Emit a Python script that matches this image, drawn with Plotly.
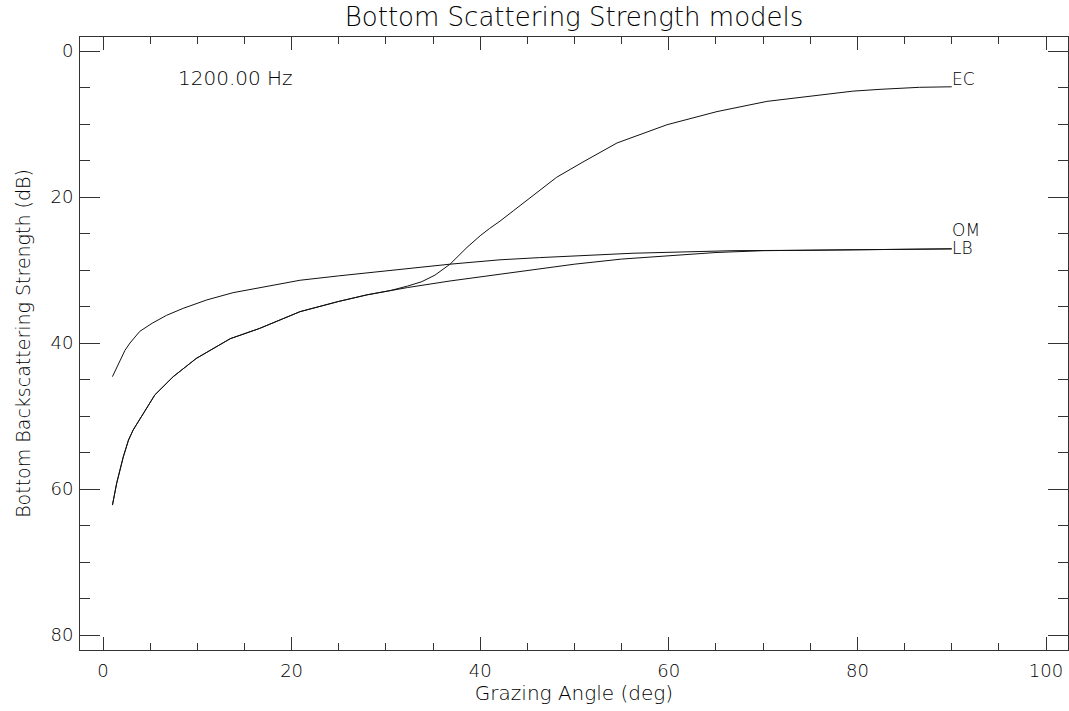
import plotly.graph_objects as go

# ---- data ----
ec_x = [1, 1.45, 2.15, 2.7, 3.2, 4.3, 5.5, 7.45, 9.9, 13.5, 16.6, 20.9, 25, 28, 30.5,
        32.3, 33.8, 35.2, 36.8, 38.6, 40, 41, 42.1, 43.5, 44.6, 46.3, 48.1, 50.9, 54.5, 59.8, 65.1,
        70.4, 75.3, 79.5, 82.4, 86.6, 90]
ec_y = [62.2, 59.2, 55.6, 53.3, 51.9, 49.6, 47.1, 44.6, 42.1, 39.4, 38.0, 35.7, 34.3, 33.4, 32.8,
        32.2, 31.6, 30.7, 29.2, 26.9, 25.3, 24.3, 23.3, 21.9, 20.8, 19.1, 17.3, 15.2, 12.6, 10.1, 8.3,
        6.9, 6.1, 5.5, 5.25, 4.97, 4.9]

om_x = [1, 2.33, 2.86, 3.9, 5.2, 6.75, 8.5, 11.0, 13.8, 17.4, 20.9, 25, 32.2, 36.8,
        42.1, 46.3, 56.2, 66.8, 73.9, 80, 90]
om_y = [44.6, 41.0, 40.0, 38.4, 37.3, 36.2, 35.25, 34.1, 33.1, 32.2, 31.4, 30.8, 29.8, 29.2,
        28.6, 28.3, 27.7, 27.35, 27.3, 27.2, 27.1]

lb_x = [1, 1.45, 2.15, 2.7, 3.2, 4.3, 5.5, 7.45, 9.9, 13.5, 16.6, 20.9, 25, 28, 30.5,
        32.3, 36.8, 42.1, 46.3, 50, 55, 60, 65, 70, 80, 90]
lb_y = [62.2, 59.2, 55.6, 53.3, 51.9, 49.6, 47.1, 44.6, 42.1, 39.4, 38.0, 35.7, 34.3, 33.4, 32.8,
        32.4, 31.5, 30.6, 29.9, 29.2, 28.5, 28.0, 27.6, 27.35, 27.2, 27.1]

series_names = ["EC", "OM", "LB"]
freq_label = "1200.00 Hz"

x_major = [0, 20, 40, 60, 80, 100]
x_minor = [v for v in range(0, 101, 5)]
y_major = [0, 20, 40, 60, 80]
y_minor = [v for v in range(0, 81, 5)]

title_text = "Bottom Scattering Strength models"
x_title = "Grazing Angle (deg)"
y_title = "Bottom Backscattering Strength (dB)"

# ---- styling ----
FONT = "DejaVu Sans"
INK = "#000000"
AX = "#333333"

fig = go.Figure()
for xs, ys in [(ec_x, ec_y), (om_x, om_y), (lb_x, lb_y)]:
    fig.add_trace(go.Scatter(x=xs, y=ys, mode="lines",
                             line=dict(color="#111111", width=1), showlegend=False,
                             hoverinfo="skip"))

# end labels
label_shift = {"EC": -4, "OM": 7, "LB": -11}
for name, xs, ys in zip(series_names, [ec_x, om_x, lb_x], [ec_y, om_y, lb_y]):
    fig.add_annotation(x=xs[-1], y=ys[-1], text=name, showarrow=False,
                       xanchor="left", yanchor="bottom", xshift=-2,
                       yshift=label_shift[name],
                       font=dict(family=FONT, size=17, color=INK, weight=200))

fig.add_annotation(x=8, y=5, text=freq_label, showarrow=False, xanchor="left",
                   yanchor="bottom", yshift=-4, xshift=-2,
                   font=dict(family=FONT, size=20, color=INK, weight=200))

fig.update_layout(
    width=1069, height=711,
    margin=dict(l=80, r=1, t=37, b=61),
    paper_bgcolor="white", plot_bgcolor="white",
    title=dict(text=title_text, x=0.537, xanchor="center", y=0.976, yanchor="middle",
               yref="container", font=dict(family=FONT, size=26, color=INK, weight=200)),
    font=dict(family=FONT, color=INK),
)

fig.update_xaxes(
    range=[-2.44, 102.33], showgrid=False, zeroline=False,
    showline=True, linecolor=AX, linewidth=1, mirror="ticks",
    ticks="inside", ticklen=13, tickwidth=1, tickcolor=AX,
    tickmode="array", tickvals=x_major, ticktext=[str(v) for v in x_major],
    minor=dict(tickmode="array", tickvals=x_minor, ticks="inside", ticklen=7,
               tickwidth=1, tickcolor=AX, showgrid=False),
    tickfont=dict(family=FONT, size=18, color=INK, weight=200),
    ticklabelstandoff=4,
    title=dict(text=x_title, font=dict(family=FONT, size=20, color=INK, weight=200), standoff=2),
    automargin=False,
)
fig.update_yaxes(
    range=[82.05, -1.92], showgrid=False, zeroline=False,
    showline=True, linecolor=AX, linewidth=1, mirror="ticks",
    ticks="inside", ticklen=20, tickwidth=1, tickcolor=AX,
    tickmode="array", tickvals=y_major, ticktext=[str(v) for v in y_major],
    minor=dict(tickmode="array", tickvals=y_minor, ticks="inside", ticklen=10,
               tickwidth=1, tickcolor=AX, showgrid=False),
    tickfont=dict(family=FONT, size=18, color=INK, weight=200),
    ticklabelstandoff=2,
    title=dict(text=y_title, font=dict(family=FONT, size=19, color=INK, weight=200), standoff=14),
    automargin=False,
)

fig.write_html(
    "out.html",
    config={"displayModeBar": False},
    post_script="document.body.style.margin='0';document.body.style.overflow='hidden';",
)
